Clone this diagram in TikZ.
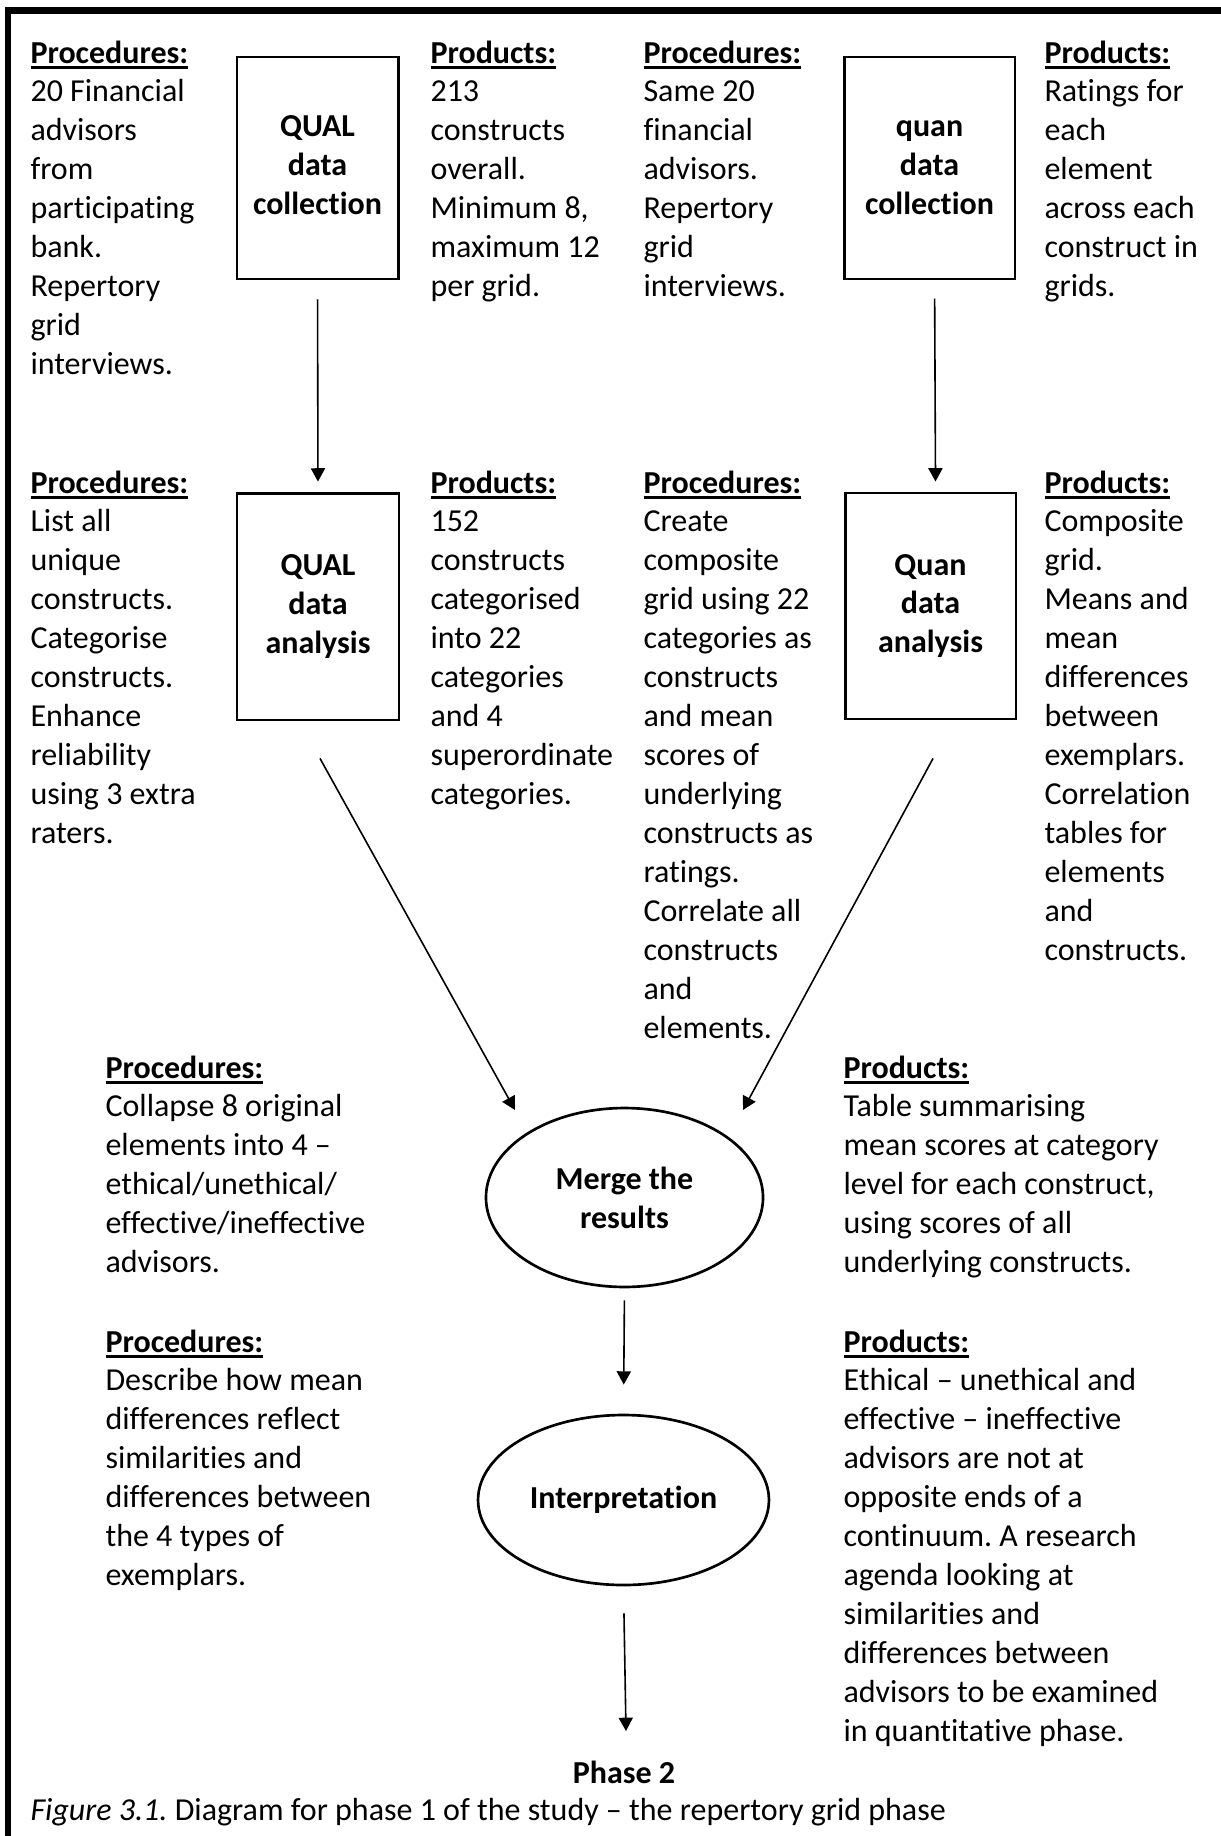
\documentclass[tikz,border=0pt]{standalone}
\usepackage{fontspec}
\setmainfont{Carlito}[Ligatures=NoCommon]
\usetikzlibrary{arrows.meta,shapes.geometric}
\frenchspacing
\newcommand\ulhead[1]{\leavevmode\setbox0\hbox{\textbf{#1}}\rlap{\rule[-2.3pt]{\wd0}{1pt}}\box0}
\newcommand\tblk[1]{\parbox[t]{230pt}{\fontsize{12pt}{14.6pt}\selectfont\frenchspacing\raggedright #1}}
\begin{document}
\begin{tikzpicture}[x=0.375pt,y=-0.375pt,
  every node/.style={inner sep=0pt, font=\fontsize{12pt}{14.6pt}\selectfont},
  txt/.style={anchor=base west},
  stagebox/.style={draw, line width=1.1pt, rectangle, align=center, font=\fontsize{12pt}{14.6pt}\selectfont\bfseries},
  oval/.style={draw, line width=1pt, ellipse, align=center, font=\fontsize{12pt}{14.6pt}\selectfont\bfseries},
  arr/.style={line width=0.6pt, -{Triangle[width=5.3pt,length=5pt]}}
]
\useasboundingbox (0,0) rectangle (1221,1836);
% outer frame (top and left)
\draw[line width=2.3pt] (8,1836) -- (8,10.5) -- (1221,10.5);

% stage boxes
\node[stagebox, minimum width=60.4pt, minimum height=83.25pt] (qlc) at (317.5,168) {\raisebox{-1pt}{\begin{tabular}{@{}c@{}}QUAL\\data\\collection\end{tabular}}};
\node[stagebox, minimum width=60.75pt, minimum height=85.1pt] (qla) at (318,606.5) {QUAL\\data\\analysis};
\node[stagebox, minimum width=64.1pt, minimum height=83.25pt] (qnc) at (929.5,168) {\raisebox{-1.5pt}{\begin{tabular}{@{}c@{}}quan\\data\\collection\end{tabular}}};
\node[stagebox, minimum width=64.1pt, minimum height=84.75pt] (qna) at (930.5,606) {Quan\\data\\analysis};
\node[oval, minimum width=103.9pt, minimum height=67.1pt] (merge) at (624.5,1197.5) {Merge the\\results};
\node[oval, minimum width=109.1pt, minimum height=63.75pt] (interp) at (623.5,1500) {Interpretation};
\node[anchor=base, font=\fontsize{12pt}{14.6pt}\selectfont\bfseries] (phase) at (624,1783) {Phase 2};
\coordinate (p2top) at (626,1731);

% row 1 texts
\node[txt] (t11) at (30,63) {\tblk{\ulhead{Procedures:}\\20 Financial\\advisors\\from\\participating\\bank.\\Repertory\\grid\\interviews.}};
\node[txt] (t12) at (430,63) {\tblk{\ulhead{Products:}\\213\\constructs\\overall.\\Minimum 8,\\maximum 12\\per grid.}};
\node[txt] (t13) at (643,63) {\tblk{\ulhead{Procedures:}\\Same 20\\financial\\advisors.\\Repertory\\grid\\interviews.}};
\node[txt] (t14) at (1044,63) {\tblk{\ulhead{Products:}\\Ratings for\\each\\element\\across each\\construct in\\grids.}};

% row 2 texts
\node[txt] (t21) at (30,493) {\tblk{\ulhead{Procedures:}\\List all\\unique\\constructs.\\Categorise\\constructs.\\Enhance\\reliability\\using 3 extra\\raters.}};
\node[txt] (t22) at (430,493) {\tblk{\ulhead{Products:}\\152\\constructs\\categorised\\into 22\\categories\\and 4\\superordinate\\categories.}};
\node[txt] (t23) at (643,493) {\tblk{\ulhead{Procedures:}\\Create\\composite\\grid using 22\\categories as\\constructs\\and mean\\scores of\\underlying\\constructs as\\ratings.\\Correlate all\\constructs\\and\\elements.}};
\node[txt] (t24) at (1044,493) {\tblk{\ulhead{Products:}\\Composite\\grid.\\Means and\\mean\\differences\\between\\exemplars.\\Correlation\\tables for\\elements\\and\\constructs.}};

% row 3 texts
\node[txt] (t31) at (105,1078) {\tblk{\ulhead{Procedures:}\\Collapse 8 original\\elements into 4 –\\ethical/unethical/\\effective/ineffective\\advisors.}};
\node[txt] (t32) at (105,1352) {\tblk{\ulhead{Procedures:}\\Describe how mean\\differences reflect\\similarities and\\differences between\\the 4 types of\\exemplars.}};
\node[txt] (t33) at (843,1078) {\tblk{\ulhead{Products:}\\Table summarising\\mean scores at category\\level for each construct,\\using scores of all\\underlying constructs.}};
\node[txt] (t34) at (843,1352) {\tblk{\ulhead{Products:}\\Ethical – unethical and\\effective – ineffective\\advisors are not at\\opposite ends of a\\continuum. A research\\agenda looking at\\similarities and\\differences between\\advisors to be examined\\in quantitative phase.}};

% caption
\node[txt] (cap) at (30,1820) {\textit{Figure 3.1.} Diagram for phase 1 of the study – the repertory grid phase};

% connectors
\draw[arr, shorten <=7.1pt, shorten >=3.75pt] (qlc.south) -- (qla.north);
\draw[arr, shorten <=6.8pt, shorten >=3.75pt] ([xshift=1.9pt]qnc.south) -- ([xshift=1.9pt]qna.north);
\draw[arr] ([shift={(2,37)}]qla.south) -- ([shift={(-109.5,-87.5)}]merge.center);
\draw[arr] ([shift={(2.5,38)}]qna.south) -- ([shift={(118.5,-87.5)}]merge.center);
\draw[arr, shorten <=4.5pt, shorten >=10.9pt] (merge.south) -- (interp.north);
\draw[arr, shorten <=10.1pt] (interp.south) -- (p2top);
\end{tikzpicture}
\end{document}
